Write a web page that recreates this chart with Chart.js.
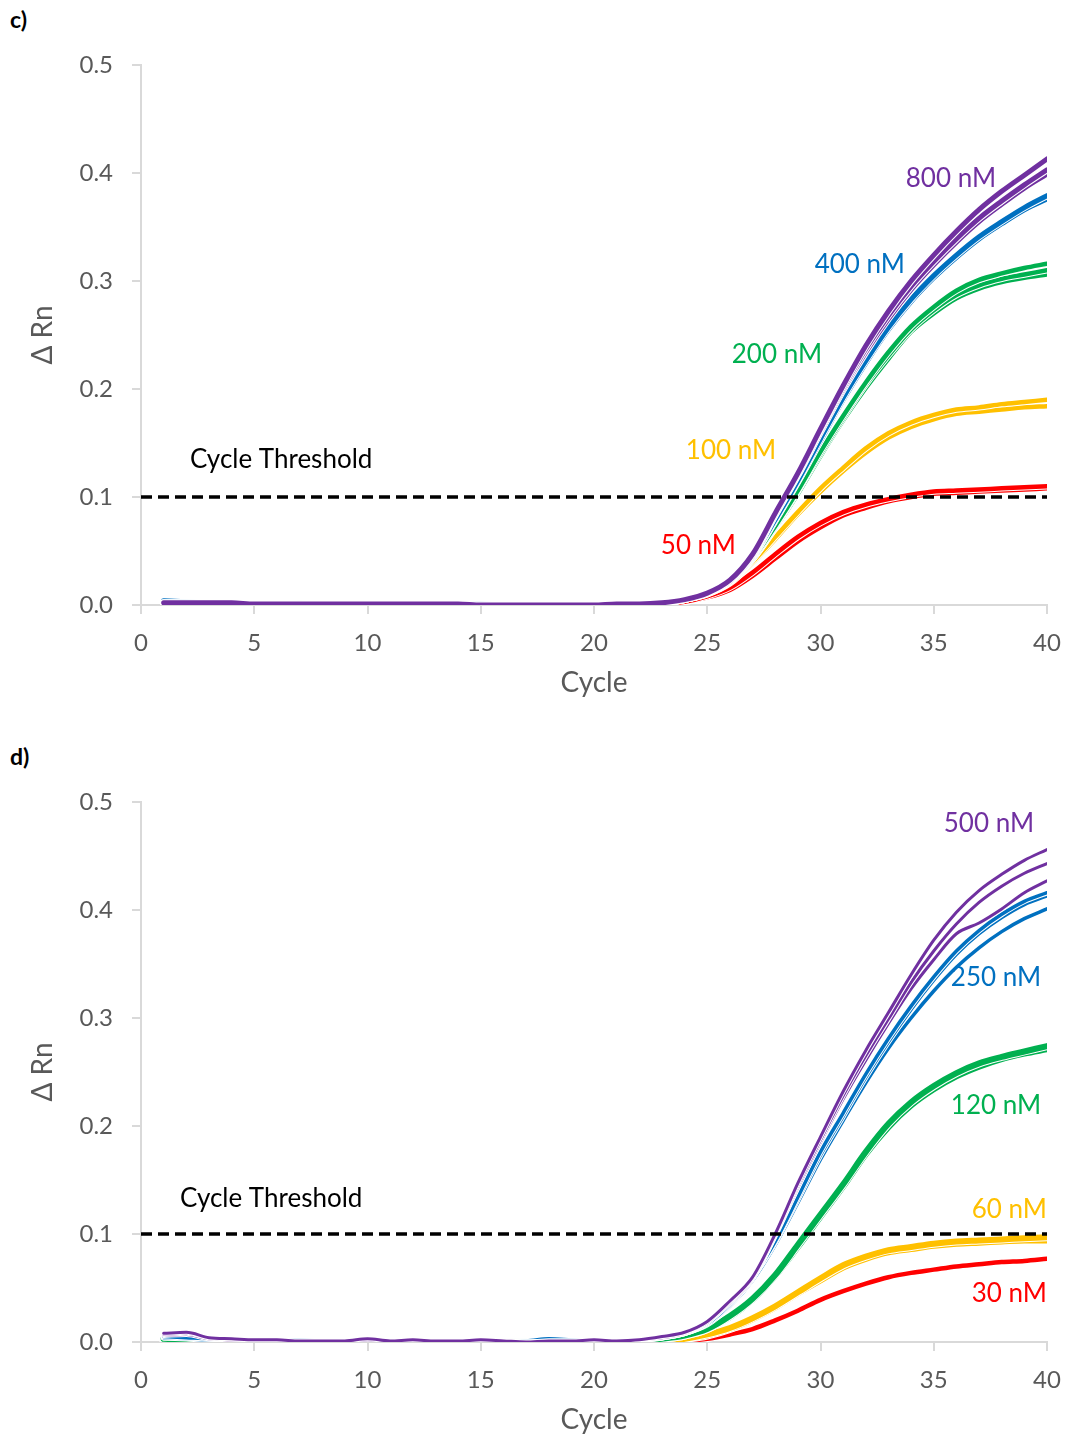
<!DOCTYPE html>
<html>
<head>
<meta charset="utf-8">
<script src="https://cdn.jsdelivr.net/npm/chart.js@4.4.1/dist/chart.umd.min.js"></script>
<style>
  html, body { margin: 0; padding: 0; background: #fff; overflow: hidden; }
  body { width: 1068px; height: 1441px; position: relative; font-family: Lato, "Open Sans", sans-serif; }
  .panel { position: absolute; left: 0; width: 1068px; height: 720px; }
  .tag { position: absolute; left: 10px; font: bold 23px Lato, sans-serif; color: #000; }
</style>
</head>
<body>
<div class="tag" style="top:5px">c)</div>
<div class="panel" style="top:0"><canvas id="chartC" width="1068" height="720"></canvas></div>
<div class="tag" style="top:742px">d)</div>
<div class="panel" style="top:737px"><canvas id="chartD" width="1068" height="720"></canvas></div>
<script>
// cycles 1..40
const cycles = [1, 2, 3, 4, 5, 6, 7, 8, 9, 10, 11, 12, 13, 14, 15, 16, 17, 18, 19, 20,
    21, 22, 23, 24, 25, 26, 27, 28, 29, 30, 31, 32, 33, 34, 35, 36, 37, 38, 39, 40];
const xTicks = [0, 5, 10, 15, 20, 25, 30, 35, 40];
const yTicks = [0.0, 0.1, 0.2, 0.3, 0.4, 0.5];
const thresholdValue = 0.1;

// ---- panel c) ----
const cPurple800 = [
    0.002, 0.002, 0.002, 0.002, 0.001, 0.001, 0.001, 0.001, 0.001, 0.001,
    0.001, 0.001, 0.001, 0.001, 0.000, 0.000, 0.000, 0.000, 0.000, 0.000,
    0.001, 0.001, 0.002, 0.005, 0.011, 0.023, 0.047, 0.085, 0.122, 0.163,
    0.203, 0.240, 0.272, 0.300, 0.324, 0.346, 0.366, 0.383, 0.398, 0.413];
const cPurple800b = [
    0.002, 0.002, 0.002, 0.001, 0.001, 0.001, 0.001, 0.001, 0.001, 0.001,
    0.001, 0.001, 0.001, 0.000, 0.000, 0.000, 0.000, 0.000, 0.000, 0.000,
    0.001, 0.001, 0.002, 0.005, 0.011, 0.023, 0.046, 0.084, 0.121, 0.162,
    0.201, 0.237, 0.268, 0.295, 0.318, 0.339, 0.358, 0.374, 0.389, 0.403];
const cPurple800c = [
    0.001, 0.001, 0.001, 0.001, 0.001, 0.001, 0.001, 0.001, 0.001, 0.001,
    0.001, 0.001, 0.000, 0.000, 0.000, 0.000, 0.000, 0.000, 0.000, 0.000,
    0.001, 0.001, 0.002, 0.005, 0.011, 0.022, 0.045, 0.083, 0.120, 0.160,
    0.199, 0.234, 0.265, 0.292, 0.315, 0.336, 0.355, 0.371, 0.386, 0.399];
const cBlue400 = [
    0.004, 0.003, 0.002, 0.002, 0.001, 0.001, 0.001, 0.001, 0.001, 0.001,
    0.001, 0.001, 0.001, 0.001, 0.001, 0.000, 0.000, 0.000, 0.000, 0.000,
    0.001, 0.001, 0.002, 0.005, 0.011, 0.022, 0.045, 0.079, 0.115, 0.154,
    0.192, 0.226, 0.257, 0.283, 0.305, 0.324, 0.341, 0.355, 0.368, 0.379];
const cBlue400b = [
    0.003, 0.003, 0.002, 0.001, 0.001, 0.001, 0.001, 0.001, 0.001, 0.001,
    0.001, 0.001, 0.001, 0.000, 0.000, 0.000, 0.000, 0.000, 0.000, 0.000,
    0.001, 0.001, 0.002, 0.005, 0.011, 0.022, 0.044, 0.078, 0.114, 0.152,
    0.190, 0.224, 0.255, 0.281, 0.303, 0.322, 0.339, 0.353, 0.366, 0.376];
const cGreen200 = [
    0.003, 0.002, 0.002, 0.001, 0.001, 0.001, 0.002, 0.001, 0.001, 0.001,
    0.001, 0.001, 0.001, 0.001, 0.000, 0.000, 0.000, 0.000, 0.000, 0.000,
    0.001, 0.001, 0.002, 0.005, 0.011, 0.022, 0.043, 0.073, 0.106, 0.142,
    0.175, 0.206, 0.234, 0.258, 0.276, 0.291, 0.301, 0.307, 0.312, 0.316];
const cGreen200b = [
    0.002, 0.002, 0.001, 0.001, 0.001, 0.001, 0.001, 0.001, 0.001, 0.001,
    0.001, 0.001, 0.001, 0.000, 0.000, 0.000, 0.000, 0.000, 0.000, 0.000,
    0.001, 0.001, 0.002, 0.005, 0.011, 0.022, 0.042, 0.072, 0.105, 0.140,
    0.173, 0.204, 0.231, 0.255, 0.273, 0.287, 0.296, 0.302, 0.306, 0.310];
const cGreen200c = [
    0.002, 0.001, 0.001, 0.001, 0.001, 0.001, 0.001, 0.001, 0.001, 0.001,
    0.001, 0.001, 0.000, 0.000, 0.000, 0.000, 0.000, 0.000, 0.000, 0.000,
    0.001, 0.001, 0.002, 0.005, 0.011, 0.021, 0.042, 0.071, 0.103, 0.138,
    0.171, 0.201, 0.228, 0.253, 0.270, 0.284, 0.293, 0.299, 0.303, 0.306];
const cYellow100 = [
    0.001, 0.001, 0.001, 0.001, 0.001, 0.001, 0.001, 0.002, 0.001, 0.001,
    0.001, 0.001, 0.001, 0.001, 0.000, 0.000, 0.000, 0.000, 0.000, 0.000,
    0.001, 0.001, 0.002, 0.005, 0.010, 0.021, 0.040, 0.063, 0.086, 0.108,
    0.127, 0.145, 0.159, 0.169, 0.176, 0.181, 0.183, 0.186, 0.188, 0.190];
const cYellow100b = [
    0.001, 0.001, 0.001, 0.001, 0.001, 0.001, 0.001, 0.001, 0.001, 0.001,
    0.001, 0.001, 0.001, 0.000, 0.000, 0.000, 0.000, 0.000, 0.000, 0.000,
    0.001, 0.001, 0.002, 0.005, 0.010, 0.020, 0.039, 0.061, 0.084, 0.105,
    0.124, 0.141, 0.155, 0.165, 0.172, 0.177, 0.179, 0.181, 0.183, 0.184];
const cRed50 = [
    0.001, 0.001, 0.001, 0.001, 0.002, 0.001, 0.001, 0.001, 0.001, 0.001,
    0.001, 0.001, 0.001, 0.001, 0.000, 0.000, 0.000, 0.000, 0.000, 0.000,
    0.000, 0.000, 0.001, 0.003, 0.008, 0.016, 0.030, 0.047, 0.063, 0.076,
    0.086, 0.093, 0.098, 0.102, 0.105, 0.106, 0.107, 0.108, 0.109, 0.110];
const cRed50b = [
    0.001, 0.001, 0.001, 0.001, 0.001, 0.001, 0.001, 0.001, 0.001, 0.001,
    0.001, 0.001, 0.001, 0.000, 0.000, 0.000, 0.000, 0.000, 0.000, 0.000,
    0.000, 0.000, 0.001, 0.003, 0.007, 0.014, 0.027, 0.043, 0.059, 0.072,
    0.083, 0.090, 0.096, 0.100, 0.103, 0.104, 0.105, 0.106, 0.107, 0.108];

// ---- panel d) ----
const dPurple500 = [
    0.008, 0.009, 0.004, 0.003, 0.002, 0.002, 0.001, 0.001, 0.001, 0.003,
    0.001, 0.002, 0.001, 0.001, 0.002, 0.001, 0.000, 0.001, 0.001, 0.002,
    0.001, 0.002, 0.005, 0.009, 0.019, 0.038, 0.060, 0.100, 0.147, 0.190,
    0.232, 0.270, 0.305, 0.340, 0.372, 0.398, 0.418, 0.433, 0.446, 0.456];
const dPurple500b = [
    0.007, 0.008, 0.004, 0.002, 0.002, 0.001, 0.001, 0.001, 0.001, 0.002,
    0.001, 0.001, 0.001, 0.001, 0.001, 0.001, 0.000, 0.001, 0.001, 0.001,
    0.001, 0.002, 0.005, 0.009, 0.018, 0.037, 0.059, 0.099, 0.145, 0.187,
    0.228, 0.265, 0.299, 0.333, 0.362, 0.387, 0.407, 0.422, 0.434, 0.443];
const dPurple500c = [
    0.006, 0.007, 0.003, 0.002, 0.001, 0.001, 0.001, 0.001, 0.001, 0.002,
    0.001, 0.001, 0.001, 0.001, 0.001, 0.001, 0.000, 0.000, 0.001, 0.001,
    0.001, 0.002, 0.004, 0.008, 0.018, 0.036, 0.058, 0.098, 0.143, 0.185,
    0.225, 0.261, 0.295, 0.327, 0.354, 0.378, 0.388, 0.401, 0.416, 0.427];
const dBlue250 = [
    0.005, 0.004, 0.003, 0.003, 0.002, 0.002, 0.002, 0.001, 0.001, 0.002,
    0.001, 0.001, 0.001, 0.001, 0.001, 0.001, 0.001, 0.003, 0.002, 0.001,
    0.001, 0.002, 0.004, 0.008, 0.017, 0.035, 0.060, 0.093, 0.134, 0.176,
    0.212, 0.248, 0.281, 0.311, 0.338, 0.362, 0.381, 0.396, 0.408, 0.416];
const dBlue250b = [
    0.004, 0.004, 0.003, 0.002, 0.002, 0.002, 0.001, 0.001, 0.001, 0.001,
    0.001, 0.001, 0.001, 0.001, 0.001, 0.001, 0.001, 0.002, 0.002, 0.001,
    0.001, 0.002, 0.004, 0.008, 0.017, 0.034, 0.059, 0.092, 0.132, 0.173,
    0.209, 0.245, 0.278, 0.308, 0.335, 0.359, 0.378, 0.393, 0.405, 0.413];
const dBlue250c = [
    0.004, 0.003, 0.002, 0.002, 0.002, 0.001, 0.001, 0.001, 0.001, 0.001,
    0.001, 0.001, 0.001, 0.001, 0.001, 0.001, 0.001, 0.002, 0.001, 0.001,
    0.001, 0.002, 0.004, 0.008, 0.016, 0.033, 0.057, 0.090, 0.129, 0.169,
    0.205, 0.240, 0.272, 0.300, 0.325, 0.347, 0.365, 0.380, 0.392, 0.401];
const dGreen120 = [
    0.003, 0.002, 0.002, 0.001, 0.001, 0.001, 0.001, 0.001, 0.001, 0.001,
    0.001, 0.001, 0.001, 0.001, 0.001, 0.001, 0.001, 0.001, 0.001, 0.001,
    0.001, 0.001, 0.003, 0.006, 0.012, 0.024, 0.040, 0.062, 0.090, 0.118,
    0.146, 0.176, 0.202, 0.222, 0.237, 0.249, 0.258, 0.264, 0.269, 0.274];
const dGreen120b = [
    0.002, 0.002, 0.001, 0.001, 0.001, 0.001, 0.001, 0.001, 0.001, 0.001,
    0.001, 0.001, 0.001, 0.001, 0.001, 0.001, 0.001, 0.001, 0.001, 0.001,
    0.001, 0.001, 0.003, 0.006, 0.012, 0.023, 0.039, 0.061, 0.088, 0.116,
    0.144, 0.174, 0.199, 0.219, 0.234, 0.246, 0.255, 0.262, 0.267, 0.271];
const dYellow60 = [
    0.000, 0.000, 0.000, 0.000, 0.000, 0.000, 0.000, 0.000, 0.000, 0.000,
    0.000, 0.000, 0.000, 0.000, 0.000, 0.000, 0.000, 0.000, 0.000, 0.000,
    0.000, 0.000, 0.001, 0.003, 0.007, 0.013, 0.022, 0.033, 0.046, 0.059,
    0.071, 0.079, 0.085, 0.088, 0.091, 0.093, 0.094, 0.095, 0.096, 0.097];
const dYellow60b = [
    0.000, 0.000, 0.000, 0.000, 0.000, 0.000, 0.000, 0.000, 0.000, 0.000,
    0.000, 0.000, 0.000, 0.000, 0.000, 0.000, 0.000, 0.000, 0.000, 0.000,
    0.000, 0.000, 0.001, 0.003, 0.006, 0.012, 0.021, 0.032, 0.045, 0.057,
    0.069, 0.077, 0.083, 0.086, 0.089, 0.091, 0.092, 0.093, 0.094, 0.094];
const dRed30 = [
    0.000, 0.000, 0.000, 0.000, 0.000, 0.000, 0.000, 0.000, 0.000, 0.000,
    0.000, 0.000, 0.000, 0.000, 0.000, 0.000, 0.000, 0.000, 0.000, 0.000,
    0.000, 0.000, 0.000, 0.001, 0.003, 0.007, 0.012, 0.020, 0.029, 0.039,
    0.047, 0.054, 0.060, 0.064, 0.067, 0.070, 0.072, 0.074, 0.075, 0.077];

const PURPLE = "#7030A0", BLUE = "#0070C0", GREEN = "#00B050", YELLOW = "#FFC000", RED = "#FF0000";
const TICK_GREY = "#595959", AXIS_GREY = "#D9D9D9";
const FONT = "Lato, 'Open Sans', sans-serif";

function toPoints(values) {
    return values.map((v, i) => ({ x: cycles[i], y: v }));
}

// each replicate gets a thin white halo underneath, like the office chart
function replicate(values, color, width) {
    const common = { data: toPoints(values), pointRadius: 0, fill: false,
        cubicInterpolationMode: "monotone", borderCapStyle: "round", borderJoinStyle: "round" };
    return [
        { ...common, borderColor: color, borderWidth: width },
        { ...common, borderColor: "#ffffff", borderWidth: width + 2 },
    ];
}

function thresholdSet() {
    return {
        data: [{ x: 0, y: thresholdValue }, { x: 40, y: thresholdValue }],
        borderColor: "#000", borderWidth: 3.5, borderDash: [11, 6], pointRadius: 0,
    };
}

const labelPlugin = {
    id: "curveLabels",
    afterDatasetsDraw(chart, args, opts) {
        const { ctx, scales: { x, y } } = chart;
        ctx.save();
        ctx.textBaseline = "middle";
        for (const l of opts.items || []) {
            ctx.font = `${l.size || 26}px ${FONT}`;
            ctx.fillStyle = l.color;
            ctx.textAlign = l.align || "right";
            ctx.fillText(l.text, x.getPixelForValue(l.x), y.getPixelForValue(l.y));
        }
        ctx.restore();
    },
};

function makeChart(id, datasets, labels) {
    const ctx = document.getElementById(id).getContext("2d");
    return new Chart(ctx, {
        type: "line",
        data: { datasets },
        plugins: [labelPlugin],
        options: {
            responsive: false,
            animation: false,
            devicePixelRatio: 1,
            layout: { padding: { top: 65, right: 21, left: 0, bottom: 0 } },
            plugins: {
                legend: { display: false },
                tooltip: { enabled: false },
                curveLabels: { items: labels },
            },
            scales: {
                x: {
                    type: "linear", min: 0, max: 40,
                    afterFit: (s) => { s.height = 115; s.paddingLeft = 0; s.paddingRight = 0; },
                    afterBuildTicks: (s) => { s.ticks = xTicks.map((v) => ({ value: v })); },
                    grid: { drawOnChartArea: false, tickLength: 9, color: AXIS_GREY, lineWidth: 2 },
                    border: { color: AXIS_GREY, width: 2 },
                    ticks: { color: TICK_GREY, font: { family: FONT, size: 24 }, padding: 15, maxRotation: 0 },
                    title: { display: true, text: "Cycle", color: TICK_GREY,
                        font: { family: FONT, size: 28 }, padding: { top: 0, bottom: 20 } },
                },
                y: {
                    min: 0, max: 0.5,
                    afterFit: (s) => { s.width = 141; s.paddingTop = 0; s.paddingBottom = 0; },
                    afterBuildTicks: (s) => { s.ticks = yTicks.map((v) => ({ value: v })); },
                    grid: { drawOnChartArea: false, tickLength: 9, color: AXIS_GREY, lineWidth: 2 },
                    border: { color: AXIS_GREY, width: 2 },
                    ticks: { color: TICK_GREY, font: { family: FONT, size: 24 }, padding: 19,
                        callback: (v) => Number(v).toFixed(1) },
                    title: { display: true, text: "Δ Rn", color: TICK_GREY,
                        font: { family: FONT, size: 28 }, padding: { top: 26, bottom: 0 } },
                },
            },
        },
    });
}

makeChart("chartC", [
    thresholdSet(),
    ...replicate(cPurple800, PURPLE, 5),
    ...replicate(cPurple800b, PURPLE, 5),
    ...replicate(cPurple800c, PURPLE, 5),
    ...replicate(cBlue400, BLUE, 5),
    ...replicate(cBlue400b, BLUE, 5),
    ...replicate(cGreen200, GREEN, 4.5),
    ...replicate(cGreen200b, GREEN, 4.5),
    ...replicate(cGreen200c, GREEN, 4.5),
    ...replicate(cYellow100, YELLOW, 4.5),
    ...replicate(cYellow100b, YELLOW, 4.5),
    ...replicate(cRed50, RED, 4.5),
    ...replicate(cRed50b, RED, 4.5),
], [
    { text: "800 nM", color: PURPLE, x: 37.75, y: 0.395 },
    { text: "400 nM", color: BLUE, x: 33.73, y: 0.315 },
    { text: "200 nM", color: GREEN, x: 30.07, y: 0.2315 },
    { text: "100 nM", color: YELLOW, x: 28.04, y: 0.1426 },
    { text: "50 nM", color: RED, x: 26.27, y: 0.0546 },
    { text: "Cycle Threshold", color: "#000", x: 2.16, y: 0.135, align: "left" },
]);

makeChart("chartD", [
    thresholdSet(),
    ...replicate(dPurple500, PURPLE, 3),
    ...replicate(dPurple500b, PURPLE, 3),
    ...replicate(dPurple500c, PURPLE, 3),
    ...replicate(dBlue250, BLUE, 3.5),
    ...replicate(dBlue250b, BLUE, 3.5),
    ...replicate(dBlue250c, BLUE, 3.5),
    ...replicate(dGreen120, GREEN, 6),
    ...replicate(dGreen120b, GREEN, 6),
    ...replicate(dYellow60, YELLOW, 6),
    ...replicate(dYellow60b, YELLOW, 6),
    ...replicate(dRed30, RED, 4.5),
], [
    { text: "500 nM", color: PURPLE, x: 39.43, y: 0.4796 },
    { text: "250 nM", color: BLUE, x: 39.74, y: 0.337 },
    { text: "120 nM", color: GREEN, x: 39.74, y: 0.2185 },
    { text: "60 nM", color: YELLOW, x: 40, y: 0.1222 },
    { text: "30 nM", color: RED, x: 40, y: 0.0444 },
    { text: "Cycle Threshold", color: "#000", x: 1.72, y: 0.1324, align: "left" },
]);
</script>
</body>
</html>
